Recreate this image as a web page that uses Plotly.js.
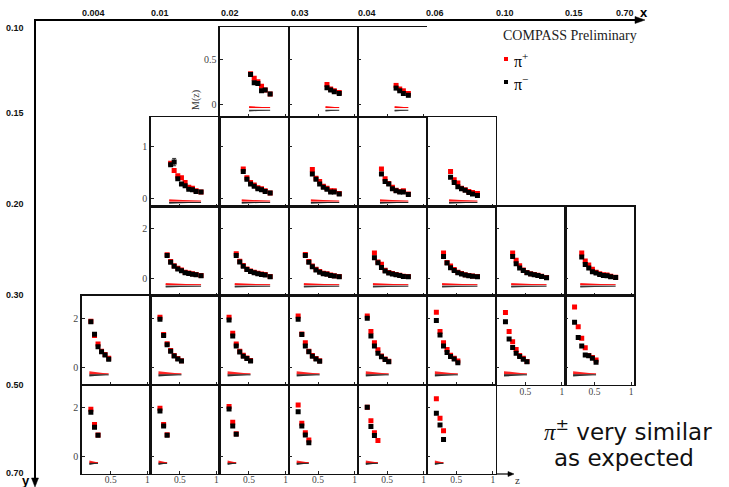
<!DOCTYPE html>
<html><head><meta charset="utf-8">
<script src="https://cdn.plot.ly/plotly-3.0.1.min.js"></script>
<style>html,body{margin:0;padding:0;background:#fff;}#chart{width:729px;height:487px;}</style>
</head><body><div id="chart"></div>
<script>
// ---------------- DATA ----------------
const zBins = [0.228, 0.278, 0.326, 0.374, 0.422, 0.472, 0.522, 0.572, 0.622, 0.672, 0.722, 0.790];
const xBinLabels = ['0.004','0.01','0.02','0.03','0.04','0.06','0.10','0.15','0.70'];
const yBinLabels = ['0.10','0.15','0.20','0.30','0.50','0.70'];

// row 1 : y 0.10-0.15
const row1Cols = [3,4,5];
const row1Start = [6,8,8];
const row1PiPlus = [
  [0.34,0.29,0.25,0.20,0.16,0.115],
  [0.22,0.17,0.15,0.13],
  [0.21,0.17,0.15,0.12]];
const row1PiMinus = [
  [0.33,0.24,0.23,0.15,0.16,0.115],
  [0.185,0.16,0.14,0.12],
  [0.18,0.15,0.12,0.10]];

// row 2 : y 0.15-0.20
const row2Cols = [2,3,4,5,6];
const row2Start = [3,4,4,4,4];
const row2PiPlus = [
  [0.68,0.54,0.44,0.40,0.31,0.22,0.20,0.15,0.13],
  [0.57,0.40,0.31,0.26,0.21,0.19,0.15,0.11],
  [0.56,0.39,0.33,0.24,0.20,0.15,0.15,0.10],
  [0.57,0.38,0.29,0.22,0.16,0.14,0.15,0.09],
  [0.52,0.36,0.30,0.20,0.17,0.14,0.12,0.10]];
const row2PiMinus = [
  [0.65,0.70,0.38,0.28,0.25,0.18,0.17,0.14,0.13],
  [0.52,0.37,0.28,0.24,0.19,0.17,0.14,0.11],
  [0.47,0.37,0.28,0.22,0.18,0.13,0.13,0.09],
  [0.47,0.33,0.28,0.19,0.15,0.13,0.13,0.08],
  [0.41,0.31,0.23,0.19,0.16,0.12,0.09,0.06]];
const row2MinusErrCol2 = [0,0.07,0,0,0,0,0,0,0];

// row 3 : y 0.20-0.30
const row3Cols = [2,3,4,5,6,7,8];
const row3Start = [2,2,2,2,2,2,2];
const row3PiPlus = [
  [0.96,0.69,0.52,0.42,0.35,0.26,0.23,0.20,0.17,0.13],
  [1.00,0.70,0.53,0.39,0.31,0.26,0.22,0.19,0.17,0.09],
  [0.97,0.69,0.51,0.38,0.29,0.22,0.20,0.15,0.12,0.09],
  [1.03,0.67,0.58,0.34,0.25,0.21,0.17,0.14,0.10,0.09],
  [1.03,0.65,0.51,0.37,0.26,0.21,0.16,0.13,0.11,0.09],
  [1.03,0.74,0.52,0.35,0.25,0.20,0.17,0.14,0.10,0.05],
  [1.03,0.71,0.55,0.38,0.26,0.20,0.16,0.15,0.10,0.06]];
const row3PiMinus = [
  [0.93,0.66,0.50,0.39,0.32,0.24,0.21,0.18,0.16,0.12],
  [0.93,0.67,0.50,0.37,0.29,0.24,0.20,0.17,0.15,0.08],
  [0.93,0.66,0.48,0.35,0.26,0.20,0.18,0.13,0.11,0.08],
  [0.84,0.64,0.45,0.31,0.23,0.19,0.16,0.13,0.09,0.08],
  [0.89,0.63,0.44,0.33,0.24,0.19,0.15,0.12,0.10,0.08],
  [0.89,0.60,0.43,0.33,0.24,0.19,0.16,0.13,0.09,0.04],
  [0.87,0.57,0.43,0.28,0.23,0.17,0.13,0.12,0.08,0.05]];

// row 4 : y 0.30-0.50
const row4Cols = [1,2,3,4,5,6,7,8];
const row4Start = [0,0,0,0,0,0,0,0];
const row4PiPlus = [
  [1.88,1.30,0.96,0.67,0.53,0.38],
  [2.04,1.34,0.97,0.70,0.49,0.37,0.28],
  [2.04,1.39,0.96,0.67,0.50,0.39,0.29],
  [2.09,1.36,1.01,0.67,0.49,0.37,0.28],
  [2.09,1.46,1.01,0.73,0.47,0.35,0.26],
  [2.24,1.46,1.01,0.74,0.50,0.38,0.27],
  [2.23,1.46,1.05,0.74,0.49,0.38,0.25],
  [2.45,1.66,1.19,0.81,0.49,0.41,0.31]];
const row4PiMinus = [
  [1.86,1.35,0.85,0.64,0.51,0.34],
  [1.96,1.30,0.93,0.67,0.47,0.35,0.27],
  [1.93,1.28,0.88,0.63,0.46,0.37,0.27],
  [1.96,1.34,0.88,0.64,0.46,0.35,0.26],
  [2.00,1.28,0.88,0.58,0.44,0.33,0.24],
  [1.91,1.32,0.88,0.61,0.45,0.35,0.20],
  [1.86,1.16,0.82,0.58,0.45,0.34,0.24],
  [1.84,1.22,0.88,0.51,0.48,0.38,0.22]];

// row 5 : y 0.50-0.70
const row5Cols = [1,2,3,4,5,6];
const row5Start = [0,0,0,0,0,0];
const row5PiPlus = [
  [1.92,1.30,0.88],
  [1.96,1.30,0.89],
  [2.03,1.39,0.93],
  [2.09,1.35,0.97,0.68],
  [2.00,1.45,0.97,0.65],
  [2.34,1.55,1.05]];
const row5PiMinus = [
  [1.80,1.19,0.87],
  [1.85,1.24,0.87],
  [1.93,1.24,0.91],
  [1.82,1.24,0.88,0.56],
  [2.00,1.22,0.86],
  [1.76,1.28,0.70]];

// ---------------- LAYOUT GEOMETRY ----------------
const W = 729, H = 487;
const colEdges = [81.5,150.6,219.7,288.8,357.9,427.0,496.1,565.2,634.3];
const rowEdges = [27,117,206.5,295.5,385,473.5];
const yRanges = [[-0.141,0.859],[-0.149,1.562],[-0.672,2.888],[-0.70,2.92],[-0.68,2.90]];
const yTickVals = [[0,0.5],[0,1],[0,2],[0,2],[0,2]];
const bandStyle = [
  {rTop:-0.020,rBase:-0.036,bTop:-0.066,bBot:-0.080},
  {rTop:-0.010,rBase:-0.045,bTop:-0.072,bBot:-0.095},
  {rTop:-0.17,rBase:-0.24,bTop:-0.30,bBot:-0.35},
  {rTop:-0.14,rBase:-0.25,bTop:-0.29,bBot:-0.36},
  {rTop:-0.15,rBase:-0.24,bTop:-0.27,bBot:-0.34}];

const rows = [
  {cols:row1Cols,start:row1Start,plus:row1PiPlus,minus:row1PiMinus},
  {cols:row2Cols,start:row2Start,plus:row2PiPlus,minus:row2PiMinus},
  {cols:row3Cols,start:row3Start,plus:row3PiPlus,minus:row3PiMinus},
  {cols:row4Cols,start:row4Start,plus:row4PiPlus,minus:row4PiMinus},
  {cols:row5Cols,start:row5Start,plus:row5PiPlus,minus:row5PiMinus}];

const RED = '#ff0000', BLK = '#000000';
const tickFont = {family:'Liberation Serif, serif', size:10, color:'#444'};
const px = x => x / W, py = y => 1 - y / H;

const traces = [];
const layout = {
  width: W, height: H, margin:{l:0,r:0,t:0,b:0},
  paper_bgcolor:'#fff', plot_bgcolor:'rgba(0,0,0,0)', showlegend:false,
  annotations:[], shapes:[]
};

let k = 0;
rows.forEach((row, ri) => {
  const below = rows[ri+1] ? rows[ri+1].cols : [];
  row.cols.forEach((c, pi) => {
    k++;
    const xa = k === 1 ? 'x' : 'x' + k;
    const ya = k === 1 ? 'y' : 'y' + k;
    const xk = k === 1 ? 'xaxis' : 'xaxis' + k;
    const yk = k === 1 ? 'yaxis' : 'yaxis' + k;
    const s = row.start[pi];
    const yp = row.plus[pi], ym = row.minus[pi];
    const zp = zBins.slice(s, s + yp.length);
    const zm = zBins.slice(s, s + ym.length);
    const zAll = zp.length >= zm.length ? zp : zm;
    const z0 = zAll[0] - 0.02, z1 = zAll[zAll.length-1];
    const b = bandStyle[ri];
    // systematic bands (thin wedges)
    traces.push({type:'scatter', mode:'lines', xaxis:xa, yaxis:ya,
      x:[z0,z1,z0,z0], y:[b.rBase,b.rBase,b.rTop,b.rBase], fill:'toself',
      fillcolor:'rgba(255,0,0,0.85)', line:{color:RED,width:0}, hoverinfo:'skip'});
    traces.push({type:'scatter', mode:'lines', xaxis:xa, yaxis:ya,
      x:[z0,z1], y:[b.rBase,b.rBase], line:{color:RED,width:1}, hoverinfo:'skip'});
    traces.push({type:'scatter', mode:'lines', xaxis:xa, yaxis:ya,
      x:[z0,z1,z0,z0], y:[b.bTop,b.bTop,b.bBot,b.bTop], fill:'toself',
      fillcolor:'rgba(0,0,0,0.8)', line:{color:BLK,width:0}, hoverinfo:'skip'});
    traces.push({type:'scatter', mode:'lines', xaxis:xa, yaxis:ya,
      x:[z0,z1], y:[b.bTop,b.bTop], line:{color:'#222',width:1}, hoverinfo:'skip'});
    // pi+
    traces.push({type:'scatter', mode:'markers', xaxis:xa, yaxis:ya, x:zp, y:yp,
      marker:{symbol:'square', size:5, color:RED, line:{width:0}}});
    // pi-
    const tm = {type:'scatter', mode:'markers', xaxis:xa, yaxis:ya, x:zm, y:ym,
      marker:{symbol:'square', size:5, color:BLK, line:{width:0}}};
    if (ri === 1 && pi === 0) {
      tm.error_y = {type:'data', array:row2MinusErrCol2, visible:true, color:'#333', thickness:1, width:2};
    }
    traces.push(tm);

    // top-right panel of the first row has no right frame in the reference
    const openRight = (ri === 0 && pi === row.cols.length - 1);

    layout[xk] = {
      domain:[px(colEdges[c-1]), px(colEdges[c])], range:[0.10,1.045],
      anchor:ya, tickvals:[0.5,1], ticktext:['0.5','1'], ticks:'inside', ticklen:3,
      tickwidth:1, tickcolor:'#222', showline:true, mirror:true,
      linecolor:'#111', linewidth:1.3,
      showgrid:false, zeroline:false, showticklabels: below.indexOf(c) < 0,
      ticklabelstandoff:-3,
      tickfont:{family:'Liberation Serif, serif', size:9.5, color:'#444'}, fixedrange:true
    };
    layout[yk] = {
      domain:[py(rowEdges[ri+1]), py(rowEdges[ri])], range:yRanges[ri],
      anchor:xa, tickvals:yTickVals[ri], ticktext:yTickVals[ri].map(String), ticks:'inside', ticklen:3,
      tickwidth:1, tickcolor:'#222', showline:true, mirror: !openRight, linecolor:'#111', linewidth:1.3,
      showgrid:false, zeroline:false, showticklabels: pi === 0,
      tickfont:tickFont, fixedrange:true
    };
  });
});

// ---------------- DECORATION ----------------
const ann = (x, y, text, font, extra) => Object.assign({
  xref:'paper', yref:'paper', x:px(x), y:py(y), text:text, showarrow:false,
  xanchor:'center', yanchor:'middle', font:font}, extra || {});

const topLabelX = [93,160,230,300,367,435,505,574,625];
xBinLabels.forEach((t, i) => layout.annotations.push(
  ann(topLabelX[i], 13, '<b>' + t + '</b>', {family:'Liberation Sans, Arial', size:9, color:'#111'})));
const leftLabelY = [28,113,204,295,385,473];
yBinLabels.forEach((t, i) => layout.annotations.push(
  ann(15, leftLabelY[i], '<b>' + t + '</b>', {family:'Liberation Sans, Arial', size:9, color:'#111'})));
layout.annotations.push(ann(644, 12, '<b>x</b>', {family:'Liberation Sans, Arial', size:13, color:'#000'}));
layout.annotations.push(ann(26, 480, '<b>y</b>', {family:'Liberation Sans, Arial', size:13, color:'#000'}));

layout.annotations.push(ann(570, 36, 'COMPASS Preliminary', {family:'Liberation Serif, serif', size:14, color:'#222'}));
layout.annotations.push(ann(512, 60, 'π<sup>+</sup>', {family:'Liberation Serif, serif', size:16, color:'#000'}, {xanchor:'left'}));
layout.annotations.push(ann(512, 83, 'π<sup>−</sup>', {family:'Liberation Serif, serif', size:16, color:'#000'}, {xanchor:'left'}));
layout.annotations.push(ann(196, 100, 'M(z)', {family:'Liberation Serif, serif', size:10, color:'#333'}, {textangle:-90}));
layout.annotations.push(ann(517, 480, 'z', {family:'Liberation Serif, serif', size:11, color:'#333'}));

layout.annotations.push(ann(542, 430, '<span style="font-family:Liberation Serif"><i>π</i></span><sup>±</sup> very similar',
  {family:'DejaVu Sans, sans-serif', size:23, color:'#111'}, {xanchor:'left'}));
layout.annotations.push(ann(552, 458, 'as expected',
  {family:'DejaVu Sans, sans-serif', size:23, color:'#111'}, {xanchor:'left'}));

// legend squares
layout.shapes.push({type:'rect', xref:'paper', yref:'paper', x0:px(504), x1:px(508), y0:py(57), y1:py(61), fillcolor:RED, line:{width:0}});
layout.shapes.push({type:'rect', xref:'paper', yref:'paper', x0:px(504), x1:px(508), y0:py(80), y1:py(84), fillcolor:BLK, line:{width:0}});

// main axes arrows
const P = (x, y) => px(x).toFixed(5) + ',' + py(y).toFixed(5);
layout.shapes.push({type:'path', xref:'paper', yref:'paper', path:'M' + P(35,481) + ' L' + P(35,20) + ' L' + P(637,20), line:{color:'#000', width:2}});
layout.shapes.push({type:'path', xref:'paper', yref:'paper', path:'M' + P(635,16.5) + ' L' + P(645,20) + ' L' + P(635,23.5) + ' Z', fillcolor:'#000', line:{color:'#000', width:0.5}});
layout.shapes.push({type:'path', xref:'paper', yref:'paper', path:'M' + P(31.5,478) + ' L' + P(35,487) + ' L' + P(38.5,478) + ' Z', fillcolor:'#000', line:{color:'#000', width:0.5}});
// z arrow
layout.shapes.push({type:'line', xref:'paper', yref:'paper', x0:px(497), y0:py(474), x1:px(509), y1:py(474), line:{color:'#000', width:1.2}});
layout.shapes.push({type:'path', xref:'paper', yref:'paper', path:'M' + P(508,471.5) + ' L' + P(514,474) + ' L' + P(508,476.5) + ' Z', fillcolor:'#000', line:{color:'#000', width:0.5}});

Plotly.newPlot('chart', traces, layout, {staticPlot:true, displayModeBar:false});
</script>
</body></html>
